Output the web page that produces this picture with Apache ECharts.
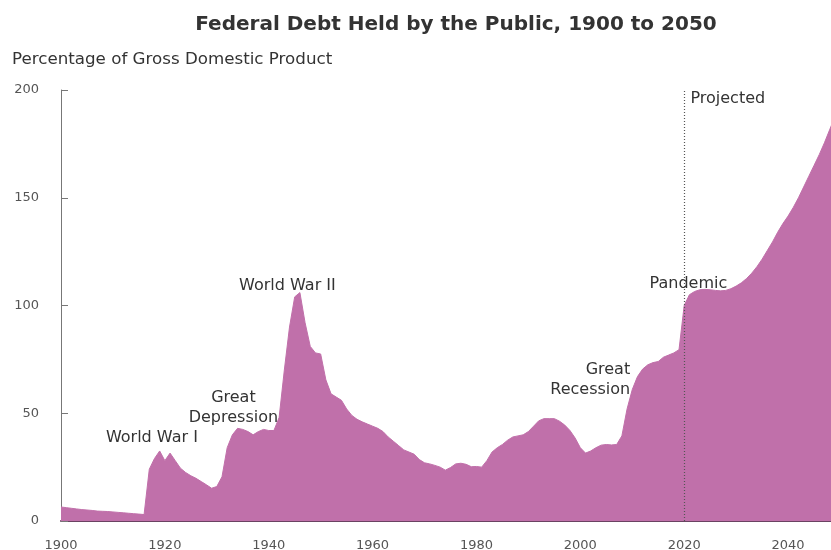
<!DOCTYPE html>
<html>
<head>
<meta charset="utf-8">
<script src="https://cdn.jsdelivr.net/npm/echarts@6/dist/echarts.min.js"></script>
<style>
html,body{margin:0;padding:0;background:#fff;}
#chart{width:831px;height:550px;}
</style>
</head>
<body>
<div id="chart"></div>
<script>
// Years 1900..2050
const years = [];
for (let y = 1900; y <= 2050; y++) years.push(y);

// Debt held by the public, % of GDP
const debt1900s = [6.5, 6.2, 5.9, 5.6, 5.3, 5.1, 4.9, 4.6, 4.5, 4.4];
const debt1910s = [4.2, 4.0, 3.8, 3.6, 3.4, 3.2, 3.0, 24, 29, 32.5];
const debt1920s = [28, 31.5, 28, 24.5, 22.5, 21, 19.8, 18.3, 16.8, 15.2];
const debt1930s = [16, 20.5, 34, 40, 43, 42.5, 41.5, 40, 41.5, 42.5];
const debt1940s = [42, 42, 48, 70, 90, 104, 106, 92, 81, 78];
const debt1950s = [77.5, 65.5, 59, 57.5, 56, 52, 49, 47.2, 46, 45];
const debt1960s = [44, 43, 41.5, 39, 37, 35, 33, 32, 31, 28.5];
const debt1970s = [27, 26.5, 25.8, 25, 23.6, 24.8, 26.5, 26.8, 26.3, 25.2];
const debt1980s = [25.3, 25, 28, 32, 34, 35.5, 37.5, 39, 39.5, 40];
const debt1990s = [41.5, 44, 46.5, 47.5, 47.5, 47.5, 46.3, 44.5, 42, 38.5];
const debt2000s = [34, 31.5, 32.5, 34, 35.2, 35.5, 35.3, 35.5, 39.5, 52];
const debt2010s = [61, 67, 70.5, 72.5, 73.5, 74, 76, 77, 78, 79.5];
const debt2020s = [100, 105, 106.5, 107.3, 107.5, 107.3, 107, 106.8, 107, 107.8];
const debt2030s = [109, 110.5, 112.5, 115, 118, 121.5, 125.5, 129.5, 134, 138];
const debt2040s = [141.5, 145.5, 150, 155, 160, 165, 170, 175.5, 181.5, 187.5];
const debt2050 = [193.5];

const debt = [].concat(debt1900s, debt1910s, debt1920s, debt1930s, debt1940s,
  debt1950s, debt1960s, debt1970s, debt1980s, debt1990s, debt2000s,
  debt2010s, debt2020s, debt2030s, debt2040s, debt2050);

// Axis ticks
const xTicks = [1900, 1920, 1940, 1960, 1980, 2000, 2020, 2040];
const yTicks = [0, 50, 100, 150, 200];

// Annotations: text, anchor year, anchor value
const noteText  = ['World War I', 'Great\nDepression', 'World War II', 'Great\nRecession', 'Pandemic', 'Projected'];
const noteYear  = [1917.5, 1933.2, 1943.6, 2009.6, 2020.8, 2021.2];
const noteValue = [34, 43.4, 104.6, 56.4, 105.6, 191.4];
const noteAlign = ['center', 'center', 'center', 'right', 'center', 'left'];

const projectedStart = 2020;

const data = years.map((y, i) => [y, debt[i]]);

const chart = echarts.init(document.getElementById('chart'), null, {renderer: 'canvas'});

const FONT = '"DejaVu Sans", "Liberation Sans", Arial, sans-serif';

chart.setOption({
  animation: false,
  backgroundColor: '#ffffff',
  title: {
    text: 'Federal Debt Held by the Public, 1900 to 2050',
    left: 451,
    top: 10,
    textAlign: 'center',
    textStyle: {fontFamily: FONT, fontSize: 20, fontWeight: 'bold', color: '#333'}
  },
  graphic: [{
    type: 'text',
    left: 12,
    top: 51,
    style: {text: 'Percentage of Gross Domestic Product', font: '16.7px ' + FONT, fill: '#333'}
  }],
  grid: {left: 61, width: 779, top: 90, bottom: 29, containLabel: false, outerBoundsMode: 'none'},
  xAxis: {
    type: 'value',
    min: 1900,
    max: 2050,
    interval: 20,
    axisLine: {show: true, lineStyle: {color: '#6a4362', width: 2}},
    axisTick: {show: true, inside: true, length: 9, lineStyle: {color: '#5a4a58', width: 1}},
    axisLabel: {
      color: '#555', fontFamily: FONT, fontSize: 13, margin: 18,
      formatter: v => xTicks.indexOf(v) >= 0 ? String(v) : ''
    },
    splitLine: {show: false}
  },
  yAxis: {
    type: 'value',
    min: 0,
    max: 200,
    interval: 50,
    axisLine: {show: true, lineStyle: {color: '#777', width: 1}},
    axisTick: {show: true, inside: true, length: 7, lineStyle: {color: '#777'}},
    axisLabel: {
      color: '#555', fontFamily: FONT, fontSize: 13, margin: 22,
      formatter: v => yTicks.indexOf(v) >= 0 ? String(v) : ''
    },
    splitLine: {show: false}
  },
  series: [{
    type: 'line',
    data: data,
    showSymbol: false,
    symbol: 'none',
    smooth: false,
    z: 2,
    lineStyle: {color: '#c070aa', width: 1},
    areaStyle: {color: '#c070aa', opacity: 1},
    markLine: {
      silent: true,
      symbol: ['none', 'none'],
      label: {show: false},
      lineStyle: {color: '#555', type: [1, 2], width: 1.2},
      data: [{xAxis: projectedStart}]
    },
    markPoint: {
      symbol: 'circle',
      symbolSize: 0,
      silent: true,
      data: noteText.map((t, i) => ({
        coord: [noteYear[i], noteValue[i]],
        label: {
          show: true,
          formatter: t,
          align: noteAlign[i],
          verticalAlign: 'bottom',
          color: '#333',
          fontFamily: FONT,
          fontSize: 16,
          lineHeight: 20,
          position: 'inside'
        }
      }))
    }
  }]
});
</script>
</body>
</html>
